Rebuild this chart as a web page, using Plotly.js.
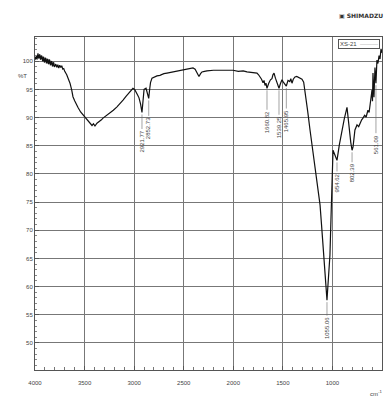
<!DOCTYPE html>
<html>
<head>
<meta charset="utf-8">
<script src="https://cdn.plot.ly/plotly-3.0.1.min.js"></script>
<style>html,body{margin:0;padding:0;background:#fff;}#chart{width:385px;height:419px;}</style>
</head>
<body>
<div id="chart"></div>
<script>
const sampleName = "XS-21";
const xTickVals = [4000, 3500, 3000, 2500, 2000, 1500, 1000, 500];
const xTickText = ["4000", "3500", "3000", "2500", "2000", "1500", "1000", "500"];
const yTickVals = [50, 55, 60, 65, 70, 75, 80, 85, 90, 95, 100];
const yTickText = ["50", "55", "60", "65", "70", "75", "80", "85", "90", "95", "100"];

const wavenumber = [
 4000,3995,3990,3985,3980,3975,3970,3965,3960,3955,3950,3945,3940,3935,3930,3925,3920,3915,3910,3905,
 3900,3895,3890,3885,3880,3875,3870,3865,3860,3855,3850,3845,3840,3835,3830,3825,3820,3815,3810,3805,
 3800,3790,3780,3770,3760,3750,3740,3730,3720,3710,3700,3680,3660,3647,3630,3617,3600,3585,3566,3540,
 3516,3490,3465,3445,3425,3410,3395,3375,3350,3330,3314,3290,3270,3244,3210,3173,3140,3112,3080,3060,
 3042,3025,3012,2995,2980,2965,2951,2935,2921,2912,2900,2880,2870,2853,2845,2835,2820,2800,2770,2740,
 2720,2700,2669,2640,2610,2568,2530,2500,2467,2430,2406,2385,2366,2346,2330,2316,2290,2265,2200,2134,
 2070,2003,1950,1900,1862,1820,1790,1761,1745,1731,1715,1700,1690,1680,1670,1660,1650,1640,1625,1610,
 1600,1589,1575,1559,1550,1539,1525,1509,1495,1480,1465,1448,1430,1420,1408,1395,1378,1360,1347,1325,
 1307,1290,1277,1250,1226,1200,1176,1150,1125,1110,1095,1085,1075,1062,1055,1045,1035,1025,1015,1004,
 994,974,954,930,904,880,853,840,833,815,802,792,773,752,735,722,705,692,675,660,
 652,642,630,621,610,601,596,591,581,571,561,551,541,530,520,510,500
];
const transmittance = [
 100.2,100.8,100.4,101.0,100.3,100.9,101.4,100.6,100.5,101.2,101.1,100.3,100.4,101.0,100.9,100.2,100.0,100.8,100.6,99.8,
 99.9,100.6,100.5,99.7,99.7,100.4,100.3,99.5,99.6,100.3,100.1,99.3,99.4,100.0,99.9,99.1,99.2,99.8,99.7,99.0,
 99.1,99.5,98.9,99.4,98.8,99.3,98.9,99.2,98.6,98.7,98.2,97.6,96.8,96.1,94.9,93.7,93.0,92.4,91.8,91.0,
 90.5,89.8,89.3,88.9,88.6,88.9,88.5,89.0,89.3,89.6,89.9,90.2,90.5,90.9,91.3,91.9,92.5,93.1,93.8,94.2,
 94.6,95.0,95.2,95.0,94.6,94.0,93.5,92.4,90.9,93.5,95.0,95.2,94.6,93.4,94.8,96.2,97.0,97.2,97.4,97.5,
 97.7,97.8,97.9,98.0,98.1,98.2,98.4,98.5,98.6,98.7,98.8,98.6,98.0,97.3,97.8,98.1,98.2,98.3,98.4,98.4,
 98.3,98.4,98.2,98.3,98.1,98.0,97.9,97.9,97.6,97.3,96.8,96.2,96.6,95.7,96.1,95.2,95.8,96.2,96.7,96.9,
 97.6,97.9,97.0,96.2,95.7,95.2,96.0,96.7,96.3,96.0,95.6,96.6,96.4,96.9,96.1,96.8,97.2,97.3,97.2,97.0,
 96.8,96.3,94.9,91.2,87.8,84.2,80.7,77.6,74.5,71.0,67.4,64.8,62.1,58.5,57.6,60.3,63.0,65.6,71.8,78.9,
 84.2,83.3,82.4,85.2,87.8,89.8,91.8,89.2,87.8,85.6,84.2,84.8,87.8,88.7,88.4,89.0,89.6,89.9,90.4,90.1,
 90.8,91.3,90.9,92.2,92.8,94.9,92.9,97.9,93.6,98.9,96.1,100.2,99.6,101.0,100.4,102.2,101.5
];

const peakWn = [2921, 2853, 1660, 1539, 1465, 1055, 954, 802, 561];
const peakLabels = ["2921.77", "2852.73", "1660.82", "1539.25", "1465.95", "1055.06", "954.62", "802.39", "561.09"];
const peakOffsets = [29, 30, 34, 39, 35, 28, 22, 23, 61];

const labelFont = {family: "Liberation Sans, Arial, sans-serif", size: 6, color: "#444"};

const annotations = peakWn.map((wn, i) => {
  const idx = wavenumber.indexOf(wn);
  return {
    x: wn, y: transmittance[idx], xref: "x", yref: "y",
    text: peakLabels[i], textangle: -90, font: labelFont,
    showarrow: true, arrowhead: 0, arrowwidth: 0.6, arrowcolor: "#666",
    ax: 0, ay: peakOffsets[i], standoff: 2
  };
});

annotations.push({
  xref: "paper", yref: "y", x: 0, y: 97.3, xanchor: "right", xshift: -6,
  text: "%T", showarrow: false, font: labelFont
});
annotations.push({
  xref: "paper", yref: "paper", x: 1, y: 1, xanchor: "right", yanchor: "top",
  xshift: -2, yshift: -2,
  text: sampleName + "  <span style='color:#aaa'>———</span>", showarrow: false,
  font: labelFont, bordercolor: "#555", borderwidth: 1, borderpad: 1, bgcolor: "#fff"
});
annotations.push({
  xref: "paper", yref: "paper", x: 1, y: 1, xanchor: "right", yanchor: "bottom",
  yshift: 16, xshift: 3,
  text: "<b>▣ SHIMADZU</b>", showarrow: false,
  font: {family: "DejaVu Sans, Liberation Sans, sans-serif", size: 6, color: "#333"}
});
annotations.push({
  xref: "paper", yref: "paper", x: 0.96, y: 0, xanchor: "left", yanchor: "top",
  yshift: -17,
  text: "cm<sup>-1</sup>", showarrow: false, font: labelFont
});

const trace = {
  x: wavenumber, y: transmittance, type: "scatter", mode: "lines",
  name: sampleName, line: {color: "#111", width: 1.2}
};

const layout = {
  width: 385, height: 419,
  margin: {l: 35, r: 3, t: 37, b: 49},
  paper_bgcolor: "#fff", plot_bgcolor: "#fff",
  showlegend: false,
  font: labelFont,
  xaxis: {
    range: [4000, 500], tickmode: "array", tickvals: xTickVals, ticktext: xTickText,
    showgrid: true, gridcolor: "#777", gridwidth: 1,
    showline: true, linecolor: "#555", linewidth: 1, mirror: true,
    ticks: "inside", ticklen: 4, tickcolor: "#555",
    minor: {dtick: 100, ticks: "inside", ticklen: 3, tickcolor: "#777", showgrid: false},
    tickfont: labelFont, ticklabelstandoff: 7, zeroline: false
  },
  yaxis: {
    range: [45.2, 104.3], tickmode: "array", tickvals: yTickVals, ticktext: yTickText,
    showgrid: true, gridcolor: "#777", gridwidth: 1,
    showline: true, linecolor: "#555", linewidth: 1, mirror: true,
    ticks: "inside", ticklen: 4, tickcolor: "#555",
    minor: {dtick: 1, ticks: "inside", ticklen: 2, tickcolor: "#888", showgrid: false},
    tickfont: labelFont, zeroline: false
  },
  annotations: annotations
};

Plotly.newPlot("chart", [trace], layout, {displayModeBar: false, staticPlot: true});
</script>
</body>
</html>
